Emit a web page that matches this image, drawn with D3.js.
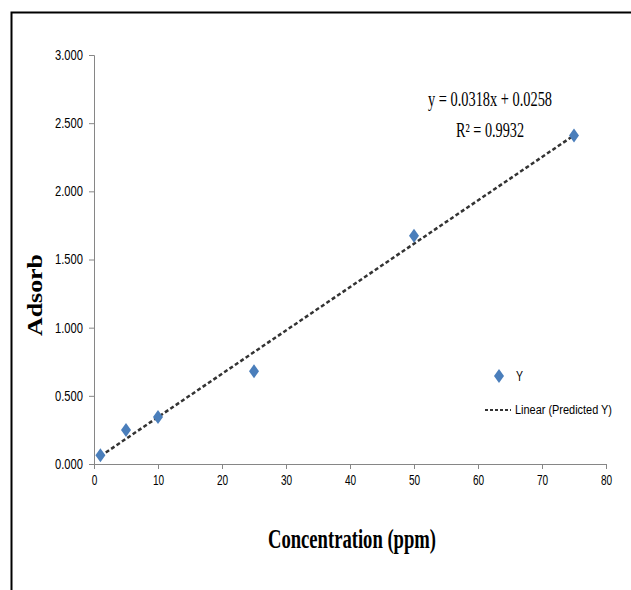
<!DOCTYPE html>
<html><head><meta charset="utf-8">
<script src="https://cdn.jsdelivr.net/npm/d3@7"></script>
<style>body{margin:0;background:#fff}svg{display:block}</style>
</head><body>
<script>
const concentration = [1, 5, 10, 25, 50, 75];
const absorbance = [0.065, 0.25, 0.345, 0.68, 1.675, 2.41];
const slope = 0.0318, intercept = 0.0258;
const xTicks = [0,10,20,30,40,50,60,70,80];
const yTicks = [0,0.5,1,1.5,2,2.5,3];
const eqText = "y = 0.0318x + 0.0258";
const r2Text = "R² = 0.9932";

const W = 631, H = 590;
const svg = d3.select("body").append("svg").attr("width", W).attr("height", H);
svg.append("rect").attr("width", W).attr("height", H).attr("fill", "#fff");
svg.append("path").attr("d", `M11.5,${H} L11.5,12.5 L${W},12.5`).attr("fill","none").attr("stroke","#000").attr("stroke-width",2);

const x = d3.scaleLinear().domain([0,80]).range([94,606]);
const y = d3.scaleLinear().domain([0,3]).range([464,55]);

const tickFont = "'Liberation Sans Narrow','Arial Narrow','Liberation Sans',sans-serif";
const gx = svg.append("g").attr("transform","translate(0,464)")
  .call(d3.axisBottom(x).tickValues(xTicks).tickSize(5).tickPadding(6).tickFormat(d3.format("d")));
const gy = svg.append("g").attr("transform","translate(94,0)")
  .call(d3.axisLeft(y).tickValues(yTicks).tickSize(5).tickPadding(6).tickFormat(d3.format(".3f")));
[gx,gy].forEach(g=>{
  g.selectAll("path,line").attr("stroke","#868686");
  g.selectAll("text").attr("font-family",tickFont).attr("font-size",14).attr("fill","#000")
    .attr("lengthAdjust","spacingAndGlyphs")
    .attr("textLength", function(){ return this.textContent.length*5.6; });
});

svg.append("line")
  .attr("x1", x(concentration[0])).attr("y1", y(slope*concentration[0]+intercept))
  .attr("x2", x(concentration[concentration.length-1])).attr("y2", y(slope*concentration[concentration.length-1]+intercept))
  .attr("stroke","#333").attr("stroke-width",2.5).attr("stroke-dasharray","4,2.5");

const diamond = (cx,cy)=>`M${cx},${cy-7} L${cx+5},${cy} L${cx},${cy+7} L${cx-5},${cy} Z`;
svg.selectAll(".pt").data(concentration).join("path").attr("class","pt")
  .attr("d",(d,i)=>diamond(x(d), y(absorbance[i]))).attr("fill","#4a7ebb");

svg.append("text").attr("x",490).attr("y",106).attr("text-anchor","middle")
  .attr("font-family","'Liberation Serif','Times New Roman',serif").attr("font-size",20)
  .attr("textLength",124).attr("lengthAdjust","spacingAndGlyphs").text(eqText);
svg.append("text").attr("x",490).attr("y",137).attr("text-anchor","middle")
  .attr("font-family","'Liberation Serif','Times New Roman',serif").attr("font-size",20)
  .attr("textLength",68).attr("lengthAdjust","spacingAndGlyphs").text(r2Text);

svg.append("path").attr("d",diamond(499,376)).attr("fill","#4a7ebb");
svg.append("text").attr("x",516).attr("y",381).attr("font-family",tickFont).attr("font-size",14)
  .attr("textLength",7).attr("lengthAdjust","spacingAndGlyphs").text("Y");
svg.append("line").attr("x1",485).attr("x2",511).attr("y1",410).attr("y2",410)
  .attr("stroke","#333").attr("stroke-width",2).attr("stroke-dasharray","3,2");
svg.append("text").attr("x",515).attr("y",414).attr("font-family",tickFont).attr("font-size",12)
  .attr("textLength",97).attr("lengthAdjust","spacingAndGlyphs").text("Linear (Predicted Y)");

svg.append("text").attr("x",352).attr("y",548).attr("text-anchor","middle")
  .attr("font-family","'Liberation Serif','Times New Roman',serif").attr("font-weight","bold").attr("font-size",28)
  .attr("textLength",168).attr("lengthAdjust","spacingAndGlyphs").text("Concentration (ppm)");
svg.append("text").attr("transform","translate(42,295) rotate(-90)").attr("text-anchor","middle")
  .attr("font-family","'Liberation Serif','Times New Roman',serif").attr("font-weight","bold").attr("font-size",22)
  .attr("textLength",82).attr("lengthAdjust","spacingAndGlyphs").text("Adsorb");
</script>
</body></html>
